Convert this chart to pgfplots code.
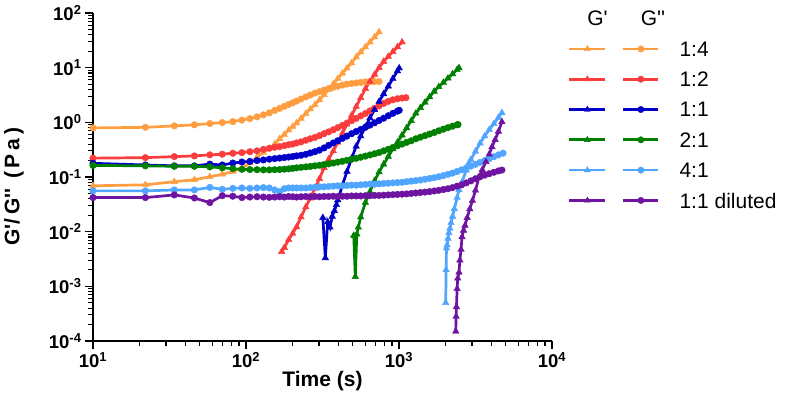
\documentclass[border=0pt]{standalone}
\usepackage{fontspec}
\setmainfont{Liberation Sans}
\newfontfamily\ylabfont{Liberation Sans}[LetterSpace=18]
\usepackage{pgfplots}
\pgfplotsset{compat=1.18}
\definecolor{c14}{RGB}{255,158,64}
\definecolor{c12}{RGB}{250,60,60}
\definecolor{c11}{RGB}{0,0,200}
\definecolor{c21}{RGB}{0,128,0}
\definecolor{c41}{RGB}{80,165,255}
\definecolor{cdl}{RGB}{110,20,160}
\pgfplotsset{
 gp/.style={color=#1, line width=2.7pt, mark=triangle*, mark size=3.8pt, mark options={solid, line width=0.4pt}},
 gpp/.style={color=#1, line width=2.7pt, mark=*, mark size=3.3pt, mark options={solid, line width=0.4pt}},
 pair/.style={legend image code/.code={
   \draw[#1, line width=2.7pt] (0pt,0pt) -- (36pt,0pt);
   \draw[#1, line width=0.4pt] plot[mark=triangle*, mark size=3.5pt] coordinates {(18pt,0pt)};
   \draw[#1, line width=2.7pt] (54pt,0pt) -- (89pt,0pt);
   \draw[#1, line width=0.4pt] plot[mark=*, mark size=3.2pt] coordinates {(71.5pt,0pt)};
   \path (110pt,0pt);
 }},
}
\begin{document}
\begin{tikzpicture}
\useasboundingbox (-93pt,-63pt) rectangle (692pt,341pt);
\begin{axis}[
 at={(0pt,0pt)}, anchor=south west,
 scale only axis, width=459pt, height=328pt,
 xmode=log, ymode=log, xmin=10, xmax=10000, ymin=1e-4, ymax=100,
 axis lines=left,
 axis line style={-, line width=1.8pt},
 tick align=outside,
 major tick length=8pt, minor tick length=5pt,
 tick style={black, line width=1.4pt},
 minor tick style={line width=1.1pt},
 /pgf/number format/assume math mode=true,
 log number format basis/.code 2 args={\textbf{#1}\textsuperscript{\textbf{\pgfmathprintnumber{#2}}}},
 ticklabel style={font=\fontsize{18.5}{20}\selectfont\bfseries},
 every axis x label/.style={at={(axis description cs:0.5,-0.122)}, anchor=center},
 every axis y label/.style={at={(axis description cs:-0.172,0.47)}, anchor=center, rotate=90},
 label style={font=\fontsize{21}{24}\selectfont\bfseries},
 xlabel={Time (s)},
 ylabel={\ylabfont\bfseries G\textquotesingle/G\textquotesingle\textquotesingle{} (Pa)},
 legend style={at={(1.0349,1.029)}, anchor=north west, draw=none, fill=none, inner sep=0pt, outer sep=0pt, row sep=0pt,
   font=\fontsize{21}{24}\selectfont, nodes={inner sep=0pt, text depth=0pt, minimum height=30.3pt}},
 legend cell align=left,
]
% 1:4
\addplot[gp=c14, forget plot] coordinates {(10,0.069) (22,0.072) (34,0.082) (46,0.089) (58,0.101) (70,0.112) (82,0.126) (94,0.145) (106,0.18) (118,0.23) (130,0.28) (142,0.335) (154,0.40) (166,0.50) (178,0.60) (190,0.72) (202,0.84) (214,0.97) (229,1.18) (246,1.45) (263,1.75) (282,2.10) (302,2.56) (324,3.2) (347,4.0) (372,5.0) (398,6.3) (427,7.9) (457,9.8) (490,12.2) (525,15.6) (562,19.3) (603,23.9) (646,29.4) (692,36.5) (741,45)};
\addplot[gpp=c14, forget plot] coordinates {(10,0.79) (22,0.81) (34,0.86) (46,0.90) (58,0.95) (70,0.99) (82,1.03) (94,1.10) (106,1.17) (118,1.26) (130,1.37) (142,1.49) (154,1.65) (166,1.80) (178,1.96) (190,2.12) (202,2.28) (214,2.45) (229,2.67) (246,2.91) (263,3.16) (282,3.41) (302,3.64) (324,3.89) (347,4.15) (372,4.37) (398,4.58) (427,4.80) (457,5.01) (490,5.13) (525,5.25) (562,5.37) (603,5.50) (646,5.53) (692,5.57) (741,5.60)};
% 1:2
\addplot[gp=c12, forget plot] coordinates {(171,0.0043) (178,0.0051) (190,0.0071) (202,0.0093) (214,0.0122) (229,0.0185) (246,0.0282) (263,0.041) (282,0.062) (302,0.093) (324,0.148) (347,0.212) (372,0.298) (398,0.43) (427,0.63) (457,0.92) (490,1.34) (525,1.94) (562,2.82) (603,4.12) (646,5.6) (692,7.5) (741,10.0) (794,13.0) (851,16.0) (912,19.6) (977,23.9) (1047,29.3)};
\addplot[gpp=c12, forget plot] coordinates {(10,0.221) (22,0.226) (34,0.236) (46,0.243) (58,0.254) (70,0.261) (82,0.272) (94,0.279) (106,0.29) (118,0.30) (130,0.32) (142,0.335) (154,0.35) (166,0.36) (178,0.375) (190,0.39) (202,0.40) (214,0.42) (229,0.44) (246,0.47) (263,0.50) (282,0.53) (302,0.57) (324,0.62) (347,0.67) (372,0.73) (398,0.80) (427,0.88) (457,0.97) (490,1.07) (525,1.18) (562,1.31) (603,1.45) (646,1.62) (692,1.80) (741,2.0) (794,2.22) (851,2.42) (912,2.58) (977,2.70) (1047,2.78) (1110,2.82)};
% 1:1
\addplot[gp=c11, forget plot] coordinates {(318,0.018) (330,0.0033) (342,0.015) (354,0.012) (366,0.019) (378,0.024) (390,0.031) (398,0.038) (427,0.071) (457,0.126) (490,0.219) (525,0.363) (562,0.56) (603,0.83) (646,1.20) (692,1.70) (741,2.40) (794,3.31) (851,4.57) (912,6.3) (977,8.7) (1003,9.8)};
\addplot[gpp=c11, forget plot] coordinates {(10,0.178) (22,0.166) (34,0.160) (46,0.160) (58,0.172) (70,0.166) (82,0.180) (94,0.188) (106,0.193) (118,0.200) (130,0.205) (142,0.212) (154,0.217) (166,0.222) (178,0.227) (190,0.232) (202,0.237) (214,0.243) (229,0.25) (246,0.26) (263,0.275) (282,0.29) (302,0.31) (324,0.34) (347,0.38) (372,0.42) (398,0.46) (427,0.51) (457,0.56) (490,0.62) (525,0.68) (562,0.74) (603,0.81) (646,0.89) (692,0.98) (741,1.08) (794,1.19) (851,1.32) (912,1.46) (977,1.60) (1003,1.66)};
% 2:1
\addplot[gp=c21, forget plot] coordinates {(506,0.0085) (518,0.0015) (530,0.0090) (542,0.0120) (562,0.0185) (603,0.034) (646,0.054) (692,0.085) (741,0.123) (794,0.171) (851,0.236) (912,0.324) (977,0.43) (1047,0.582) (1122,0.79) (1202,1.07) (1288,1.46) (1380,1.85) (1479,2.32) (1585,2.92) (1698,3.68) (1820,4.47) (1950,5.35) (2089,6.41) (2239,7.67) (2399,9.2) (2467,9.9)};
\addplot[gpp=c21, forget plot] coordinates {(10,0.163) (22,0.160) (34,0.157) (46,0.157) (58,0.153) (70,0.147) (82,0.142) (94,0.138) (106,0.137) (118,0.136) (130,0.135) (142,0.135) (154,0.136) (166,0.137) (178,0.139) (190,0.141) (202,0.144) (214,0.147) (229,0.150) (246,0.153) (263,0.156) (282,0.160) (302,0.164) (324,0.169) (347,0.174) (372,0.180) (398,0.187) (427,0.194) (457,0.202) (490,0.211) (525,0.220) (562,0.230) (603,0.241) (646,0.253) (692,0.266) (741,0.280) (794,0.300) (851,0.322) (912,0.347) (977,0.372) (1047,0.40) (1122,0.43) (1202,0.46) (1288,0.50) (1380,0.535) (1479,0.57) (1585,0.61) (1698,0.65) (1820,0.70) (1950,0.75) (2089,0.80) (2239,0.85) (2399,0.90) (2430,0.91)};
% 4:1
\addplot[gp=c41, forget plot] coordinates {(2020,0.0005) (2032,0.0020) (2044,0.0050) (2062,0.0057) (2090,0.0075) (2120,0.0095) (2150,0.0115) (2189,0.0145) (2239,0.019) (2300,0.026) (2399,0.042) (2467,0.058) (2570,0.079) (2754,0.133) (2868,0.181) (2951,0.208) (3162,0.294) (3388,0.415) (3631,0.56) (3890,0.73) (4169,0.94) (4467,1.22) (4707,1.49)};
\addplot[gpp=c41, forget plot] coordinates {(10,0.0557) (22,0.0557) (34,0.058) (46,0.058) (58,0.0645) (70,0.0596) (82,0.062) (94,0.063) (106,0.062) (118,0.063) (130,0.064) (142,0.063) (154,0.058) (166,0.054) (178,0.061) (190,0.063) (202,0.063) (214,0.063) (229,0.063) (246,0.063) (263,0.064) (282,0.065) (302,0.066) (324,0.066) (347,0.067) (372,0.068) (398,0.069) (427,0.069) (457,0.070) (490,0.071) (525,0.071) (562,0.072) (603,0.073) (646,0.074) (692,0.074) (741,0.075) (794,0.076) (851,0.077) (912,0.078) (977,0.079) (1047,0.080) (1122,0.082) (1202,0.084) (1288,0.086) (1380,0.088) (1479,0.091) (1585,0.094) (1698,0.097) (1820,0.101) (1950,0.106) (2089,0.112) (2239,0.118) (2399,0.126) (2570,0.135) (2754,0.146) (2951,0.158) (3162,0.171) (3388,0.185) (3631,0.200) (3890,0.217) (4169,0.235) (4467,0.254) (4786,0.273)};
% 1:1 diluted
\addplot[gp=cdl, forget plot] coordinates {(2350,0.00015) (2362,0.00028) (2374,0.00042) (2398,0.0009) (2420,0.0014) (2467,0.0018) (2500,0.0030) (2543,0.0047) (2582,0.0080) (2640,0.0105) (2700,0.013) (2790,0.018) (2900,0.026) (3020,0.037) (3162,0.057) (3335,0.10) (3500,0.135) (3700,0.19) (3890,0.26) (4052,0.355) (4250,0.48) (4467,0.68) (4707,1.02)};
\addplot[gpp=cdl, forget plot] coordinates {(10,0.042) (22,0.042) (34,0.047) (46,0.0413) (58,0.034) (70,0.0455) (82,0.0445) (94,0.042) (106,0.043) (118,0.0435) (130,0.043) (142,0.0425) (154,0.043) (166,0.0435) (178,0.043) (190,0.044) (202,0.0435) (214,0.043) (229,0.0435) (246,0.044) (263,0.0435) (282,0.044) (302,0.0435) (324,0.044) (347,0.044) (372,0.0445) (398,0.044) (427,0.0445) (457,0.0445) (490,0.045) (525,0.045) (562,0.045) (603,0.0455) (646,0.0455) (692,0.046) (741,0.046) (794,0.0465) (851,0.047) (912,0.0475) (977,0.048) (1047,0.0485) (1122,0.049) (1202,0.050) (1288,0.051) (1380,0.052) (1479,0.053) (1585,0.054) (1698,0.0555) (1820,0.057) (1950,0.059) (2089,0.061) (2239,0.064) (2399,0.068) (2570,0.072) (2754,0.078) (2951,0.085) (3162,0.093) (3388,0.101) (3631,0.108) (3890,0.115) (4169,0.122) (4467,0.129) (4707,0.134)};
% legend
\addlegendimage{legend image code/.code={\node at (18pt,0pt) {G\textquotesingle}; \node at (71.5pt,0pt) {G\textquotesingle\textquotesingle}; \path (0pt,0pt) (110pt,0pt);}}
\addlegendentry{}
\addlegendimage{pair=c14}\addlegendentry{1:4}
\addlegendimage{pair=c12}\addlegendentry{1:2}
\addlegendimage{pair=c11}\addlegendentry{1:1}
\addlegendimage{pair=c21}\addlegendentry{2:1}
\addlegendimage{pair=c41}\addlegendentry{4:1}
\addlegendimage{pair=cdl}\addlegendentry{1:1 diluted}
\end{axis}
\end{tikzpicture}
\end{document}
